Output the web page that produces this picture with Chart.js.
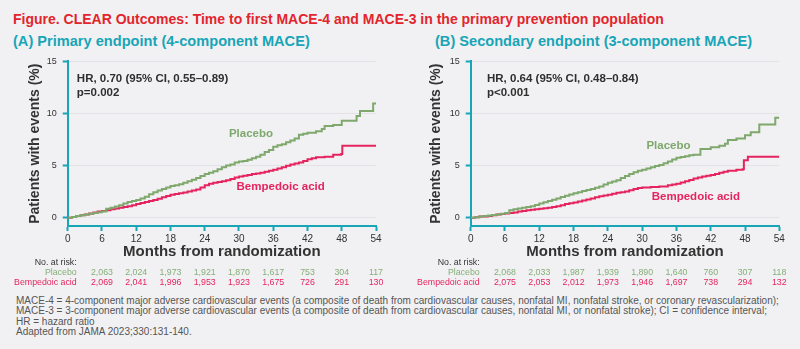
<!DOCTYPE html>
<html>
<head>
<meta charset="utf-8">
<script src="https://cdn.jsdelivr.net/npm/chart.js@4"></script>
<style>
  body { margin: 0; background: #f1f1f3; width: 800px; height: 349px; overflow: hidden; position: relative;
         font-family: "Liberation Sans", Arial, sans-serif; }
  #title { position: absolute; left: 13px; top: 11px; font-weight: bold; font-size: 14px; color: #e2252c; white-space: nowrap; }
  .sub { position: absolute; top: 33px; font-weight: bold; font-size: 14.6px; color: #18a5b7; white-space: nowrap; }
  canvas { position: absolute; top: 50px; }
  #notes { position: absolute; left: 16px; top: 296px; font-size: 10px; line-height: 10.4px; color: #555; white-space: nowrap; }
</style>
</head>
<body>
<div id="title">Figure. CLEAR Outcomes: Time to first MACE-4 and MACE-3 in the primary prevention population</div>
<div class="sub" style="left:13px">(A) Primary endpoint (4-component MACE)</div>
<div class="sub" style="left:435px">(B) Secondary endpoint (3-component MACE)</div>
<canvas id="chartA" width="400" height="240" style="left:0"></canvas>
<canvas id="chartB" width="400" height="240" style="left:400px"></canvas>
<div id="notes">
MACE-4 = 4-component major adverse cardiovascular events (a composite of death from cardiovascular causes, nonfatal MI, nonfatal stroke, or coronary revascularization);<br>
MACE-3 = 3-component major adverse cardiovascular events (a composite of death from cardiovascular causes, nonfatal MI, or nonfatal stroke); CI = confidence interval;<br>
HR = hazard ratio<br>
Adapted from JAMA 2023;330:131-140.
</div>

<script>
const TEAL = '#18a5b7';
const GREEN = '#7ea86c';
const PINK = '#e5245f';

// (A) 4-component MACE, cumulative % with event
const monthsPlaceboA = [0, 0.75, 1.5, 2.25, 3, 3.75, 4.5, 5.25, 6, 6.75, 7.5, 8.25, 9, 9.75, 10.5, 11.25, 12, 12.75, 13.5, 14.25, 15, 15.75, 16.5, 17.25, 18, 18.75, 19.5, 20.25, 21, 21.75, 22.5, 23.25, 24, 24.75, 25.5, 26.25, 27, 27.75, 28.5, 29.25, 30, 30.75, 31.5, 32.25, 33, 33.75, 34.5, 35.25, 36, 36.75, 37.5, 38.25, 39, 39.75, 40.5, 41.25, 42, 43.5, 44.5, 45, 46.5, 48, 49.5, 50.6, 51.2, 53.5, 54];
const placeboA       = [0, 0.07, 0.15, 0.22, 0.3, 0.38, 0.45, 0.52, 0.6, 0.85, 0.95, 1.08, 1.2, 1.35, 1.5, 1.6, 1.7, 1.85, 2.0, 2.25, 2.45, 2.6, 2.75, 2.9, 3.05, 3.1, 3.2, 3.35, 3.5, 3.65, 3.8, 4.0, 4.2, 4.3, 4.45, 4.65, 4.85, 5.0, 5.1, 5.3, 5.4, 5.45, 5.55, 5.7, 5.85, 6.05, 6.3, 6.5, 6.8, 6.95, 7.05, 7.25, 7.4, 7.6, 7.95, 8.05, 8.15, 8.3, 8.5, 8.8, 8.9, 9.3, 9.3, 9.75, 10.25, 10.95, 10.95];
const monthsBempA    = [0, 0.75, 1.5, 2.25, 3, 3.75, 4.5, 5.25, 6, 6.75, 7.5, 8.25, 9, 9.75, 10.5, 11.25, 12, 12.75, 13.5, 14.25, 15, 15.75, 16.5, 17.25, 18, 18.75, 19.5, 20.25, 21, 21.75, 22.5, 23.25, 24, 24.75, 25.5, 26.25, 27, 27.75, 28.5, 29.25, 30, 30.75, 31.5, 32.25, 33, 33.75, 34.5, 35.25, 36, 36.75, 37.5, 38.25, 39, 39.75, 40.5, 41.25, 42, 42.75, 43.5, 45, 46.5, 47.9, 48.1, 54];
const bempA          = [0, 0.07, 0.15, 0.22, 0.3, 0.4, 0.5, 0.58, 0.65, 0.72, 0.8, 0.88, 0.95, 1.02, 1.1, 1.2, 1.3, 1.4, 1.5, 1.6, 1.7, 1.82, 1.95, 2.08, 2.2, 2.28, 2.35, 2.42, 2.5, 2.6, 2.7, 2.9, 3.1, 3.25, 3.35, 3.42, 3.5, 3.6, 3.7, 3.85, 3.95, 4.02, 4.1, 4.18, 4.25, 4.32, 4.4, 4.5, 4.6, 4.72, 4.85, 4.98, 5.1, 5.2, 5.3, 5.45, 5.6, 5.7, 5.8, 5.85, 6.05, 6.1, 6.9, 6.9];

// (B) 3-component MACE
const monthsPlaceboB = [0, 0.75, 1.5, 2.25, 3, 3.75, 4.5, 5.25, 6, 6.75, 7.5, 8.25, 9, 9.75, 10.5, 11.25, 12, 12.75, 13.5, 14.25, 15, 15.75, 16.5, 17.25, 18, 18.75, 19.5, 20.25, 21, 21.75, 22.5, 23.25, 24, 24.75, 25.5, 26.25, 27, 27.75, 28.5, 29.25, 30, 30.75, 31.5, 32.25, 33, 33.75, 34.5, 35.25, 36, 36.75, 37.5, 38.25, 39, 40.2, 42, 43.5, 44.5, 45, 46.5, 48, 49, 50.5, 53.3, 54];
const placeboB       = [0, 0.05, 0.1, 0.15, 0.2, 0.25, 0.3, 0.38, 0.45, 0.7, 0.8, 0.88, 0.95, 1.02, 1.1, 1.22, 1.35, 1.48, 1.6, 1.72, 1.85, 1.98, 2.1, 2.22, 2.35, 2.45, 2.55, 2.65, 2.75, 2.88, 3.0, 3.18, 3.35, 3.48, 3.6, 3.8, 4.0, 4.18, 4.35, 4.5, 4.6, 4.72, 4.85, 4.95, 5.05, 5.22, 5.4, 5.58, 5.75, 5.82, 5.9, 5.98, 6.05, 6.6, 6.75, 6.9, 7.1, 7.45, 7.6, 7.9, 8.2, 8.95, 9.6, 9.6];
const monthsBempB    = [0, 0.75, 1.5, 2.25, 3, 3.75, 4.5, 5.25, 6, 6.75, 7.5, 8.25, 9, 9.75, 10.5, 11.25, 12, 12.75, 13.5, 14.25, 15, 15.75, 16.5, 17.25, 18, 18.75, 19.5, 20.25, 21, 21.75, 22.5, 23.25, 24, 24.75, 25.5, 26.25, 27, 27.75, 28.5, 29.25, 30, 31.5, 33, 34.5, 35.25, 36, 36.75, 37.5, 38.25, 39, 39.75, 40.5, 41.25, 42, 42.75, 43.5, 44.25, 45, 46.5, 47.6, 47.8, 48.5, 54];
const bempB          = [0, 0.05, 0.1, 0.12, 0.15, 0.22, 0.3, 0.35, 0.4, 0.45, 0.5, 0.58, 0.65, 0.7, 0.75, 0.8, 0.85, 0.9, 0.95, 1.02, 1.1, 1.2, 1.3, 1.38, 1.45, 1.55, 1.65, 1.75, 1.85, 1.95, 2.05, 2.12, 2.2, 2.3, 2.4, 2.45, 2.5, 2.62, 2.75, 2.85, 2.9, 2.95, 3.0, 3.1, 3.18, 3.25, 3.38, 3.5, 3.62, 3.75, 3.85, 3.95, 4.02, 4.1, 4.2, 4.3, 4.4, 4.5, 4.6, 4.65, 5.5, 5.85, 5.85];

// number at risk (printed under months 6..54 as in the figure)
const riskMonths   = [6, 12, 18, 24, 30, 36, 42, 48, 54];
const riskPlaceboA = ['2,063', '2,024', '1,973', '1,921', '1,870', '1,617', '753', '304', '117'];
const riskBempA    = ['2,069', '2,041', '1,996', '1,953', '1,923', '1,675', '726', '291', '130'];
const riskPlaceboB = ['2,068', '2,033', '1,987', '1,939', '1,890', '1,640', '760', '307', '118'];
const riskBempB    = ['2,075', '2,053', '2,012', '1,973', '1,946', '1,697', '738', '294', '132'];

const yTicks = [0, 5, 10, 15];
const FONT = '"Liberation Sans", Arial, sans-serif';

function pts(xs, ys) {
  return xs.map((x, i) => ({ x: x, y: ys[i] }));
}

// HR text, curve labels and the at-risk table
const extras = {
  id: 'extras',
  afterDraw(chart, args, o) {
    const ctx = chart.ctx, sx = chart.scales.x, sy = chart.scales.y, area = chart.chartArea;
    ctx.save();
    ctx.textBaseline = 'middle';

    ctx.font = 'bold 11.5px ' + FONT;
    ctx.fillStyle = '#2f2f2f';
    ctx.textAlign = 'left';
    ctx.fillText(o.hr, sx.getPixelForValue(o.hrAt[0]), sy.getPixelForValue(o.hrAt[1]));
    ctx.fillText(o.p, sx.getPixelForValue(o.hrAt[0]), sy.getPixelForValue(o.hrAt[1]) + 14);

    ctx.font = 'bold 11.5px ' + FONT;
    ctx.textAlign = 'center';
    ctx.fillStyle = GREEN;
    ctx.fillText('Placebo', sx.getPixelForValue(o.placeboAt[0]), sy.getPixelForValue(o.placeboAt[1]));
    ctx.fillStyle = PINK;
    ctx.fillText('Bempedoic acid', sx.getPixelForValue(o.bempAt[0]), sy.getPixelForValue(o.bempAt[1]));

    const labX = area.left + 9;
    const r0 = area.bottom + 37;
    ctx.font = '8.8px ' + FONT;
    ctx.textAlign = 'right';
    ctx.fillStyle = '#333';
    ctx.fillText('No. at risk:', labX, r0);
    ctx.fillStyle = '#86ae78';
    ctx.fillText('Placebo', labX, r0 + 10);
    ctx.fillStyle = PINK;
    ctx.fillText('Bempedoic acid', labX, r0 + 20);

    ctx.textAlign = 'center';
    riskMonths.forEach((m, i) => {
      const px = sx.getPixelForValue(m);
      ctx.fillStyle = '#86ae78';
      ctx.fillText(o.riskP[i], px, r0 + 10);
      ctx.fillStyle = PINK;
      ctx.fillText(o.riskB[i], px, r0 + 20);
    });
    ctx.restore();
  }
};

function buildChart(id, cfg) {
  return new Chart(document.getElementById(id), {
    type: 'line',
    data: {
      datasets: [
        { label: 'Placebo', data: pts(cfg.mp, cfg.vp), borderColor: GREEN, borderWidth: 2, stepped: true, pointRadius: 0, fill: false },
        { label: 'Bempedoic acid', data: pts(cfg.mb, cfg.vb), borderColor: PINK, borderWidth: 2, stepped: true, pointRadius: 0, fill: false }
      ]
    },
    options: {
      responsive: false,
      animation: false,
      devicePixelRatio: 1,
      layout: { padding: { top: 10, right: cfg.padRight, left: 0, bottom: 0 } },
      plugins: {
        legend: { display: false },
        tooltip: { enabled: false },
        extras: cfg.extras
      },
      scales: {
        x: {
          type: 'linear', min: 0, max: 54,
          afterFit: s => { s.height = 64; },
          ticks: { stepSize: 6, color: '#333', font: { size: 10, family: FONT }, padding: 2 },
          grid: { drawOnChartArea: false, tickColor: TEAL, tickLength: 5, tickWidth: 2 },
          border: { color: TEAL, width: 2 },
          title: { display: true, text: 'Months from randomization', color: '#333',
                   font: { size: 15, weight: 'bold', family: FONT }, padding: { top: 0, bottom: 29 } }
        },
        y: {
          min: -0.8, max: 15,
          afterFit: s => { s.width = cfg.yWidth; },
          afterBuildTicks: s => { s.ticks = yTicks.map(v => ({ value: v })); },
          ticks: { color: '#333', font: { size: 9, family: FONT }, padding: 6 },
          grid: { color: '#e3e3e7', lineWidth: 1, tickColor: TEAL, tickLength: 5, tickWidth: 2 },
          border: { color: TEAL, width: 2 },
          title: { display: true, text: 'Patients with events (%)', color: '#333',
                   font: { size: 14, weight: 'bold', family: FONT }, padding: { top: cfg.yTitlePad, bottom: 0 } }
        }
      }
    },
    plugins: [extras]
  });
}

buildChart('chartA', {
  mp: monthsPlaceboA, vp: placeboA, mb: monthsBempA, vb: bempA,
  yWidth: 67.7, padRight: 24, yTitlePad: 26.5,
  extras: {
    hr: 'HR, 0.70 (95% CI, 0.55\u20130.89)', p: 'p=0.002', hrAt: [1.6, 13.3],
    placeboAt: [32.1, 8.07], bempAt: [37.3, 2.95],
    riskP: riskPlaceboA, riskB: riskBempA
  }
});

buildChart('chartB', {
  mp: monthsPlaceboB, vp: placeboB, mb: monthsBempB, vb: bempB,
  yWidth: 70.7, padRight: 20.7, yTitlePad: 28.2,
  extras: {
    hr: 'HR, 0.64 (95% CI, 0.48\u20130.84)', p: 'p<0.001', hrAt: [2.85, 13.3],
    placeboAt: [34.6, 6.86], bempAt: [39.4, 2.0],
    riskP: riskPlaceboB, riskB: riskBempB
  }
});
</script>
</body>
</html>
